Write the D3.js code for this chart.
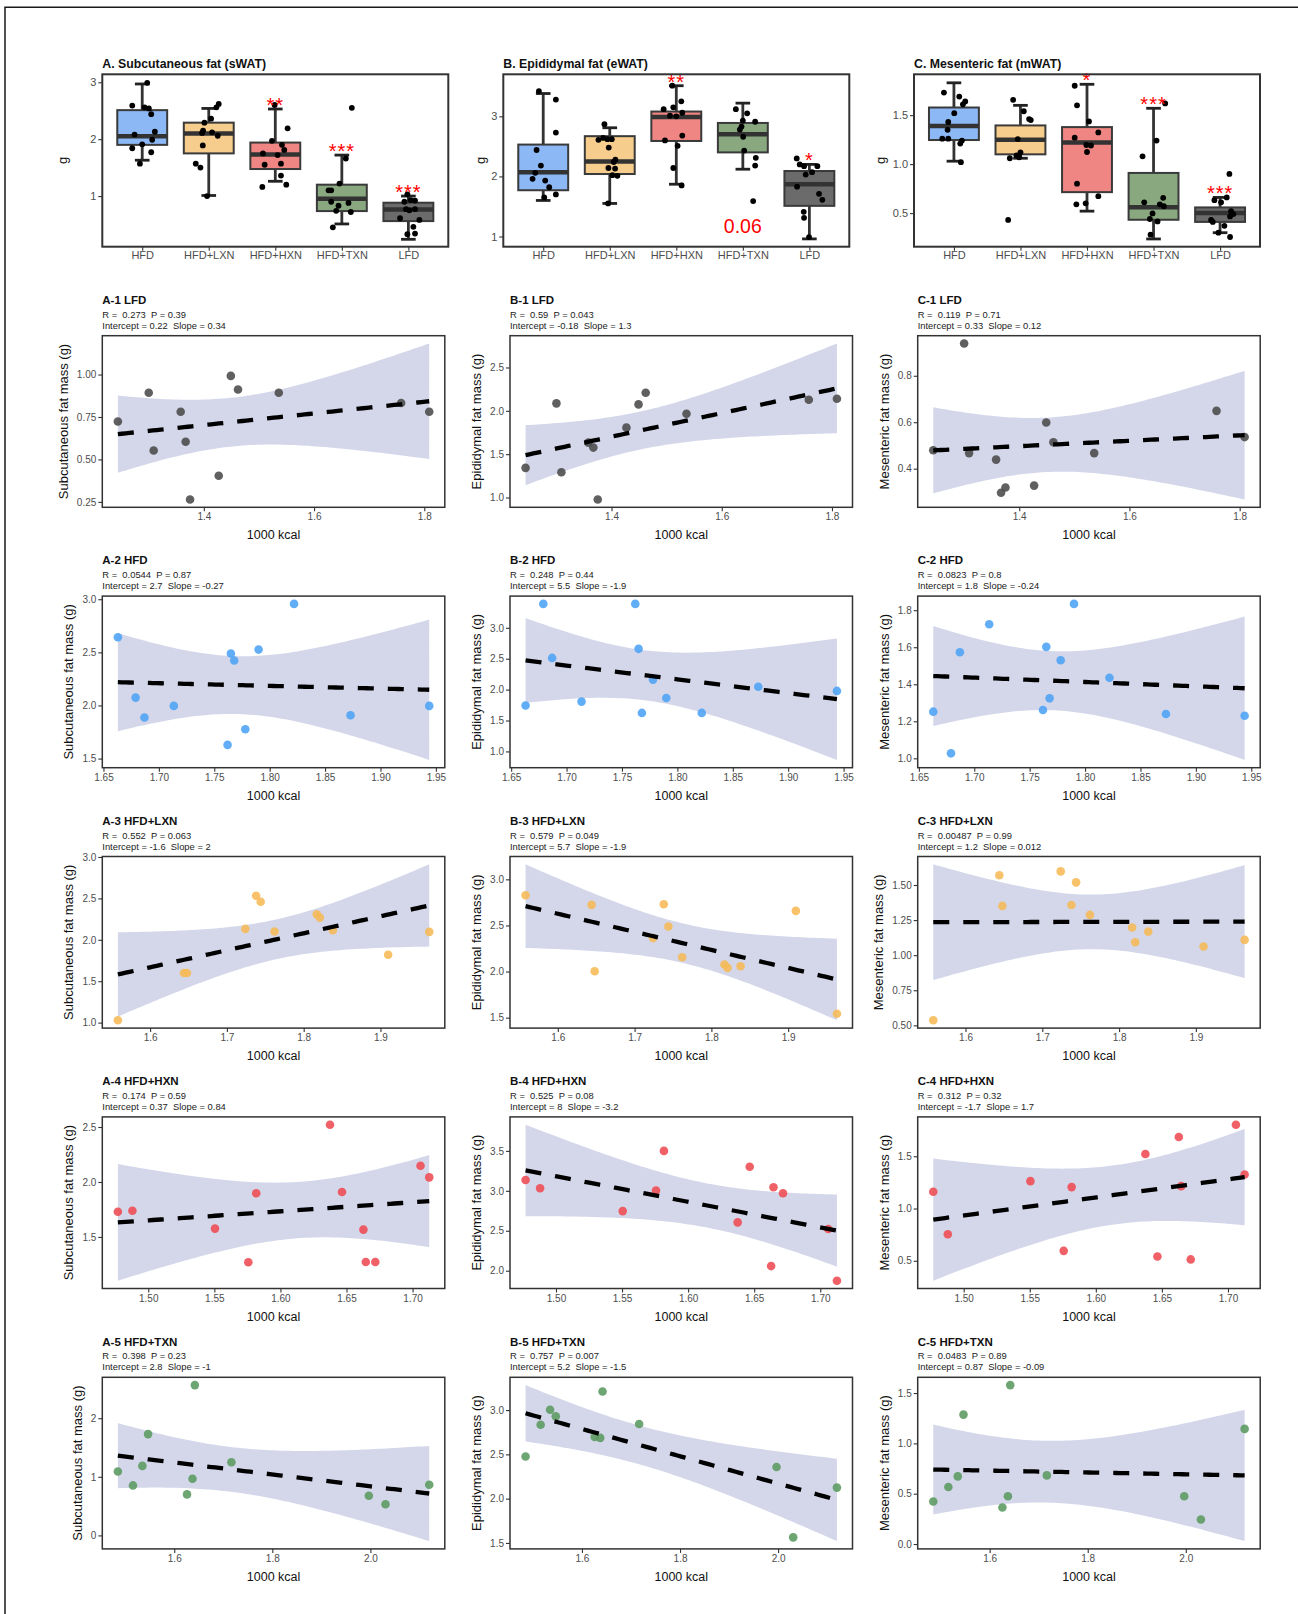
<!DOCTYPE html>
<html>
<head>
<meta charset="utf-8">
<script src="https://cdn.jsdelivr.net/npm/d3@7"></script>
<style>
  body { margin: 0; background: #fff; }
  svg text { font-family: "Liberation Sans", Arial, Helvetica, sans-serif; }
</style>
</head>
<body>
<svg id="fig" width="1298" height="1614"></svg>
<script>
// ---------- data ----------
const groups = ["HFD", "HFD+LXN", "HFD+HXN", "HFD+TXN", "LFD"];
const boxFill = ["#8cb8f6", "#f6cd8c", "#ef8683", "#8aa880", "#6b6b6b"];
const dotColor = ["#4ca3f5", "#f6b955", "#ee4b52", "#5a9a60", "#4a4a4a"];

// box stats: [whisker low, q1, median, q3, whisker high]
const sWATBox = [[1.63, 1.90, 2.05, 2.51, 2.97], [1.01, 1.75, 2.10, 2.29, 2.54], [1.26, 1.475, 1.73, 1.94, 2.53], [0.51, 0.736, 0.953, 1.20, 1.72], [0.24, 0.56, 0.765, 0.883, 1.0]];
const eWATBox = [[1.60, 1.77, 2.07, 2.53, 3.38], [1.55, 2.04, 2.25, 2.67, 2.81], [1.87, 2.59, 2.99, 3.08, 3.51], [2.12, 2.40, 2.70, 2.89, 3.22], [0.96, 1.51, 1.87, 2.09, 2.20]];
const mWATBox = [[1.03, 1.246, 1.39, 1.578, 1.83], [1.06, 1.10, 1.25, 1.395, 1.60], [0.52, 0.714, 1.22, 1.378, 1.815], [0.236, 0.432, 0.56, 0.91, 1.57], [0.30, 0.41, 0.50, 0.558, 0.66]];

// jittered points: [offset in category units, grams]
const sWATDots = [
  [[0.075, 2.99], [-0.15, 2.59], [0.035, 2.56], [0.10, 2.54], [0.135, 2.44], [0.19, 2.13], [-0.115, 2.08], [0.15, 1.99], [0, 1.91], [-0.15, 1.84], [0.135, 1.77], [-0.035, 1.57]],
  [[0.15, 2.62], [0.115, 2.56], [-0.065, 2.29], [0.035, 2.36], [-0.085, 2.15], [-0.10, 2.11], [0.05, 2.12], [0.135, 2.06], [-0.09, 1.89], [-0.195, 1.57], [-0.125, 1.50], [-0.025, 1.0]],
  [[-0.01, 2.60], [0.185, 2.19], [-0.05, 1.97], [0.10, 1.90], [0.135, 1.81], [-0.185, 1.75], [0.035, 1.72], [0.085, 1.57], [-0.16, 1.55], [0.085, 1.36], [0.165, 1.20], [-0.195, 1.16]],
  [[0.15, 2.55], [0.06, 1.66], [-0.035, 1.22], [-0.16, 1.10], [-0.2, 1.10], [-0.16, 0.90], [0.10, 0.88], [-0.05, 0.83], [-0.085, 0.74], [0.135, 0.72], [-0.135, 0.45]],
  [[-0.015, 1.03], [-0.06, 0.90], [0.035, 0.93], [0.10, 0.92], [-0.035, 0.77], [0.015, 0.75], [0.10, 0.77], [-0.125, 0.61], [0.165, 0.58], [0.075, 0.46], [0.10, 0.34], [-0.015, 0.33]]
];
const eWATDots = [
  [[-0.065, 3.42], [0.19, 3.28], [0.19, 2.73], [-0.10, 2.44], [-0.035, 2.18], [-0.12, 2.06], [-0.16, 1.96], [0.03, 1.93], [0.09, 1.82], [0.015, 1.65], [0.19, 1.70]],
  [[-0.08, 2.87], [-0.035, 2.62], [-0.10, 2.64], [-0.17, 2.61], [0.03, 2.62], [-0.015, 2.48], [0.085, 2.28], [0.06, 2.24], [-0.02, 2.14], [0.08, 2.13], [0.115, 2.01], [0.04, 2.02], [-0.025, 1.55]],
  [[-0.06, 3.51], [0.075, 3.25], [-0.045, 3.15], [-0.19, 3.12], [0.09, 3.06], [-0.095, 3.01], [0, 3.00], [0.09, 2.68], [-0.17, 2.60], [0.02, 2.51], [-0.045, 2.14], [0.08, 1.85]],
  [[-0.105, 3.12], [0.065, 3.05], [0, 2.93], [0.185, 2.91], [-0.02, 2.83], [-0.045, 2.78], [0.005, 2.66], [0.02, 2.43], [0.195, 2.31], [0.185, 2.18], [0.155, 1.59]],
  [[-0.19, 2.30], [-0.145, 2.20], [-0.08, 2.17], [0.12, 2.17], [-0.055, 2.03], [0.04, 2.07], [-0.185, 1.83], [0.145, 1.71], [0.195, 1.61], [-0.085, 1.41], [-0.08, 1.31], [-0.005, 0.99]]
];
const mWATDots = [
  [[-0.15, 1.73], [0.08, 1.69], [0.17, 1.64], [0.135, 1.61], [0.005, 1.52], [-0.085, 1.43], [-0.095, 1.35], [-0.175, 1.26], [-0.085, 1.26], [0.12, 1.24], [0.095, 1.21], [0.105, 1.02]],
  [[-0.11, 1.656], [0.05, 1.54], [0.155, 1.45], [0.13, 1.46], [-0.04, 1.256], [0, 1.12], [-0.06, 1.09], [-0.02, 1.07], [-0.16, 1.06], [-0.185, 0.43]],
  [[-0.185, 1.80], [-0.15, 1.60], [0.03, 1.436], [0.17, 1.324], [-0.185, 1.27], [-0.01, 1.195], [0.06, 1.19], [0, 1.124], [-0.15, 0.80], [0.17, 0.673], [-0.16, 0.59], [-0.02, 0.60]],
  [[0.175, 1.62], [0.045, 1.24], [-0.165, 1.08], [0.145, 0.656], [-0.14, 0.61], [0.095, 0.59], [0.155, 0.57], [-0.015, 0.497], [-0.055, 0.44], [0.06, 0.415], [-0.045, 0.28]],
  [[0.14, 0.90], [-0.085, 0.632], [0.015, 0.61], [0.10, 0.66], [0.165, 0.52], [0.2, 0.49], [0.15, 0.466], [-0.135, 0.43], [-0.11, 0.41], [0.065, 0.37], [-0.025, 0.30], [0.15, 0.256]]
];
const sWATStars = ["", "", "**", "***", "***"];
const eWATStars = ["", "", "**", "", "*"];
const mWATStars = ["", "", "*", "***", "***"];

// energy intake (1000 kcal) per group, and fat mass per mouse in the same order
const kcalLFD = [1.244, 1.300, 1.309, 1.358, 1.367, 1.375, 1.427, 1.449, 1.462, 1.536, 1.758, 1.809];
const sWAT_LFD = [0.723, 0.893, 0.553, 0.781, 0.604, 0.264, 0.404, 0.992, 0.912, 0.893, 0.832, 0.781];
const eWAT_LFD = [1.342, 2.086, 1.292, 1.633, 1.576, 0.977, 1.806, 2.074, 2.208, 1.967, 2.128, 2.139];
const mWAT_LFD = [0.479, 0.939, 0.467, 0.439, 0.296, 0.319, 0.327, 0.599, 0.514, 0.467, 0.649, 0.536];

const kcalHFD = [1.663, 1.679, 1.687, 1.7135, 1.762, 1.765, 1.768, 1.778, 1.790, 1.822, 1.873, 1.944];
const sWAT_HFD = [2.642, 2.074, 1.886, 1.996, 1.629, 2.489, 2.423, 1.776, 2.526, 2.956, 1.908, 1.996];
const eWAT_HFD = [1.743, 3.387, 2.513, 1.806, 3.387, 2.66, 1.623, 2.162, 1.864, 1.623, 2.047, 1.979];
const mWAT_HFD = [1.252, 1.027, 1.573, 1.724, 1.261, 1.602, 1.324, 1.530, 1.834, 1.435, 1.239, 1.230];

const kcalLXN = [1.558, 1.644, 1.648, 1.724, 1.738, 1.744, 1.762, 1.817, 1.821, 1.838, 1.910, 1.9635];
const sWAT_LXN = [1.028, 1.60, 1.60, 2.132, 2.532, 2.46, 2.10, 2.308, 2.268, 2.116, 1.82, 2.096];
const eWAT_LXN = [2.827, 2.723, 2.004, 2.363, 2.730, 2.489, 2.155, 2.076, 2.04, 2.058, 2.658, 1.543];
const mWAT_LXN = [0.536, 1.569, 1.351, 1.597, 1.358, 1.519, 1.287, 1.197, 1.092, 1.168, 1.062, 1.109];

const kcalHXN = [1.477, 1.488, 1.5505, 1.5757, 1.5817, 1.6375, 1.6466, 1.6628, 1.6646, 1.6718, 1.706, 1.7126];
const sWAT_HXN = [1.730, 1.739, 1.576, 1.270, 1.897, 2.521, 1.909, 1.567, 1.273, 1.273, 2.148, 2.042];
const eWAT_HXN = [3.135, 3.032, 2.746, 3.003, 3.50, 2.605, 3.301, 2.058, 3.044, 2.970, 2.522, 1.875];
const mWAT_HXN = [1.160, 0.754, 1.262, 0.595, 1.205, 1.522, 0.541, 1.684, 1.214, 0.513, 1.802, 1.325];

const kcalTXN = [1.485, 1.5158, 1.535, 1.5466, 1.626, 1.6372, 1.642, 1.7166, 1.9968, 2.0308, 2.12];
const sWAT_TXN = [1.090, 0.853, 1.186, 1.729, 0.700, 0.966, 2.565, 1.249, 0.678, 0.531, 0.864];
const eWAT_TXN = [2.476, 2.835, 3.004, 2.929, 2.697, 2.686, 3.21, 2.843, 2.357, 1.563, 2.125];
const mWAT_TXN = [0.422, 0.567, 0.672, 1.286, 0.363, 0.475, 1.579, 0.682, 0.475, 0.244, 1.144];

const rowNames = ["LFD", "HFD", "HFD+LXN", "HFD+HXN", "HFD+TXN"];
const statR = [
  ["R =  0.273  P = 0.39", "R =  0.59  P = 0.043", "R =  0.119  P = 0.71"],
  ["R =  0.0544  P = 0.87", "R =  0.248  P = 0.44", "R =  0.0823  P = 0.8"],
  ["R =  0.552  P = 0.063", "R =  0.579  P = 0.049", "R =  0.00487  P = 0.99"],
  ["R =  0.174  P = 0.59", "R =  0.525  P = 0.08", "R =  0.312  P = 0.32"],
  ["R =  0.398  P = 0.23", "R =  0.757  P = 0.007", "R =  0.0483  P = 0.89"]
];
const statLine = [
  ["Intercept = 0.22  Slope = 0.34", "Intercept = -0.18  Slope = 1.3", "Intercept = 0.33  Slope = 0.12"],
  ["Intercept = 2.7  Slope = -0.27", "Intercept = 5.5  Slope = -1.9", "Intercept = 1.8  Slope = -0.24"],
  ["Intercept = -1.6  Slope = 2", "Intercept = 5.7  Slope = -1.9", "Intercept = 1.2  Slope = 0.012"],
  ["Intercept = 0.37  Slope = 0.84", "Intercept = 8  Slope = -3.2", "Intercept = -1.7  Slope = 1.7"],
  ["Intercept = 2.8  Slope = -1", "Intercept = 5.2  Slope = -1.5", "Intercept = 0.87  Slope = -0.09"]
];

// tick labels
const yTicksA = [[0.25, 0.5, 0.75, 1], [1.5, 2, 2.5, 3], [1, 1.5, 2, 2.5, 3], [1.5, 2, 2.5], [0, 1, 2]];
const yTicksB = [[1, 1.5, 2, 2.5], [1, 1.5, 2, 2.5, 3], [1.5, 2, 2.5, 3], [2, 2.5, 3, 3.5], [1.5, 2, 2.5, 3]];
const yTicksC = [[0.4, 0.6, 0.8], [1, 1.2, 1.4, 1.6, 1.8], [0.5, 0.75, 1, 1.25, 1.5], [0.5, 1, 1.5], [0, 0.5, 1, 1.5]];
const yDecA = [2, 1, 1, 1, 0], yDecB = [1, 1, 1, 1, 1], yDecC = [1, 1, 2, 1, 1];
const xTicks = [[1.4, 1.6, 1.8], [1.65, 1.70, 1.75, 1.80, 1.85, 1.90, 1.95], [1.6, 1.7, 1.8, 1.9], [1.50, 1.55, 1.60, 1.65, 1.70], [1.6, 1.8, 2.0]];
const xDec = [1, 2, 1, 2, 1];
const tCrit = { 9: 2.262, 10: 2.228 };

// ---------- drawing ----------
const svg = d3.select("#fig");

svg.append("path")
  .attr("d", "M5,1614V7.3H1298")
  .attr("fill", "none")
  .attr("stroke", "#1a1a1a")
  .attr("stroke-width", 1.5);

function styleAxis(g, size) {
  g.attr("font-size", null).attr("font-family", null);
  g.select(".domain").remove();
  g.selectAll(".tick line").attr("stroke", "#333").attr("stroke-width", 1.1);
  g.selectAll(".tick text").attr("fill", "#4d4d4d").style("font-size", size + "px");
}

// box plots
function boxPanel(i, title, box, dots, stars, yDomain, yTicks, yDec, gX) {
  const left = [102.3, 503.3, 914][i], top = 74.3, w = 346, h = 172.4;
  const g = svg.append("g");
  const x = d3.scalePoint().domain(groups).range([left, left + w]).padding(0.6);
  const u = x.step();
  const y = d3.scaleLinear().domain(yDomain).range([top + h, top]);

  groups.forEach((grp, k) => {
    const [lo, q1, med, q3, hi] = box[k];
    const cx = x(grp);
    const gg = g.append("g");
    gg.append("line").attr("x1", cx).attr("x2", cx).attr("y1", y(hi)).attr("y2", y(q3))
      .attr("stroke", "#333").attr("stroke-width", 2.8);
    gg.append("line").attr("x1", cx).attr("x2", cx).attr("y1", y(lo)).attr("y2", y(q1))
      .attr("stroke", "#333").attr("stroke-width", 2.8);
    [lo, hi].forEach(v => {
      gg.append("line").attr("x1", cx - 0.11 * u).attr("x2", cx + 0.11 * u)
        .attr("y1", y(v)).attr("y2", y(v))
        .attr("stroke", "#222").attr("stroke-width", 2.8);
    });
    gg.append("rect")
      .attr("x", cx - 0.375 * u).attr("width", 0.75 * u)
      .attr("y", y(q3)).attr("height", y(q1) - y(q3))
      .attr("fill", boxFill[k]).attr("stroke", "#3a3a3a").attr("stroke-width", 2);
    gg.append("line").attr("x1", cx - 0.375 * u).attr("x2", cx + 0.375 * u)
      .attr("y1", y(med)).attr("y2", y(med))
      .attr("stroke", "#333").attr("stroke-width", 4.5);

    gg.selectAll("circle").data(dots[k]).join("circle")
      .attr("cx", d => cx + d[0] * u)
      .attr("cy", d => y(d[1]))
      .attr("r", 2.9)
      .attr("fill", "#000");

    if (stars[k]) {
      gg.append("text")
        .attr("x", cx).attr("y", y(hi) + 3)
        .attr("text-anchor", "middle")
        .attr("fill", "#ff0000")
        .style("font-size", "20px")
        .style("letter-spacing", "1px")
        .text(stars[k]);
    }
  });

  g.append("rect").attr("x", left).attr("y", top).attr("width", w).attr("height", h)
    .attr("fill", "none").attr("stroke", "#333").attr("stroke-width", 2);

  const ya = g.append("g").attr("transform", `translate(${left},0)`)
    .call(d3.axisLeft(y).tickValues(yTicks).tickFormat(d3.format(`.${yDec}f`)).tickSize(4).tickPadding(2));
  styleAxis(ya, 11);
  const xa = g.append("g").attr("transform", `translate(0,${top + h})`)
    .call(d3.axisBottom(x).tickSize(4).tickPadding(1));
  styleAxis(xa, 11);

  g.append("text").attr("x", left).attr("y", 67.7)
    .style("font-size", "12.3px").style("font-weight", "bold").attr("fill", "#111")
    .text(title);
  g.append("text").attr("transform", `translate(${gX},${top + h / 2}) rotate(-90)`)
    .attr("text-anchor", "middle").style("font-size", "13px").attr("fill", "#111")
    .text("g");
  return { x, y, g };
}

boxPanel(0, "A. Subcutaneous fat (sWAT)", sWATBox, sWATDots, sWATStars, [0.11, 3.14], [1, 2, 3], 0, 67);
const pB = boxPanel(1, "B. Epididymal fat (eWAT)", eWATBox, eWATDots, eWATStars, [0.83, 3.70], [1, 2, 3], 0, 485.3);
boxPanel(2, "C. Mesenteric fat (mWAT)", mWATBox, mWATDots, mWATStars, [0.157, 1.917], [0.5, 1.0, 1.5], 1, 885.3);

pB.g.append("text")
  .attr("x", pB.x("HFD+TXN")).attr("y", pB.y(1.065))
  .attr("text-anchor", "middle").attr("fill", "#ff0000")
  .style("font-size", "19.5px")
  .text("0.06");

// regression with 95% confidence band (lm)
function fit(xs, ys) {
  const n = xs.length, mx = d3.mean(xs), my = d3.mean(ys);
  let sxx = 0, sxy = 0;
  xs.forEach((xv, i) => { sxx += (xv - mx) ** 2; sxy += (xv - mx) * (ys[i] - my); });
  const b = sxy / sxx, a = my - b * mx;
  const s = Math.sqrt(d3.sum(xs, (xv, i) => (ys[i] - a - b * xv) ** 2) / (n - 2));
  const t = tCrit[n - 2];
  const [x0, x1] = d3.extent(xs);
  const band = d3.range(81).map(k => {
    const xv = x0 + (x1 - x0) * k / 80, yv = a + b * xv;
    const se = s * Math.sqrt(1 / n + (xv - mx) ** 2 / sxx);
    return { x: xv, y: yv, lo: yv - t * se, hi: yv + t * se };
  });
  return band;
}

function expand(ext) {
  const d = (ext[1] - ext[0]) * 0.05;
  return [ext[0] - d, ext[1] + d];
}

const colLeft = [102.3, 510, 917.7];
const panelW = 342.5, panelH = 171.6;
const yTitles = ["Subcutaneous fat mass (g)", "Epididymal fat mass (g)", "Mesenteric fat mass (g)"];
const letters = ["A", "B", "C"];
const kcalRows = [kcalLFD, kcalHFD, kcalLXN, kcalHXN, kcalTXN];
const fatRows = [
  [sWAT_LFD, eWAT_LFD, mWAT_LFD],
  [sWAT_HFD, eWAT_HFD, mWAT_HFD],
  [sWAT_LXN, eWAT_LXN, mWAT_LXN],
  [sWAT_HXN, eWAT_HXN, mWAT_HXN],
  [sWAT_TXN, eWAT_TXN, mWAT_TXN]
];
const rowColor = [dotColor[4], dotColor[0], dotColor[1], dotColor[2], dotColor[3]];
const yTickSets = [yTicksA, yTicksB, yTicksC];
const yDecSets = [yDecA, yDecB, yDecC];

function scatterPanel(row, col) {
  const left = colLeft[col], top = 335.7 + row * 260.4;
  const xs = kcalRows[row], ys = fatRows[row][col];
  const band = fit(xs, ys);
  const x = d3.scaleLinear().domain(expand(d3.extent(xs))).range([left, left + panelW]);
  const yExt = d3.extent([...ys, ...band.map(d => d.lo), ...band.map(d => d.hi)]);
  const y = d3.scaleLinear().domain(expand(yExt)).range([top + panelH, top]);
  const g = svg.append("g");

  g.append("path").datum(band)
    .attr("d", d3.area().x(d => x(d.x)).y0(d => y(d.lo)).y1(d => y(d.hi)))
    .attr("fill", "#d4d7ea");

  g.selectAll("circle").data(xs.map((xv, i) => [xv, ys[i]])).join("circle")
    .attr("cx", d => x(d[0])).attr("cy", d => y(d[1]))
    .attr("r", 4.3)
    .attr("fill", rowColor[row]).attr("fill-opacity", 0.88);

  g.append("path").datum(band)
    .attr("d", d3.line().x(d => x(d.x)).y(d => y(d.y)))
    .attr("fill", "none").attr("stroke", "#000").attr("stroke-width", 4.3)
    .attr("stroke-dasharray", "16,14");

  g.append("rect").attr("x", left).attr("y", top).attr("width", panelW).attr("height", panelH)
    .attr("fill", "none").attr("stroke", "#333").attr("stroke-width", 1.5);

  const ya = g.append("g").attr("transform", `translate(${left},0)`)
    .call(d3.axisLeft(y).tickValues(yTickSets[col][row])
      .tickFormat(d3.format(`.${yDecSets[col][row]}f`)).tickSize(4).tickPadding(2));
  styleAxis(ya, 10);
  const xa = g.append("g").attr("transform", `translate(0,${top + panelH})`)
    .call(d3.axisBottom(x).tickValues(xTicks[row])
      .tickFormat(d3.format(`.${xDec[row]}f`)).tickSize(4).tickPadding(2));
  styleAxis(xa, 10);

  const bb = ya.node().getBBox();
  g.append("text")
    .attr("transform", `translate(${left + bb.x - 9},${top + panelH / 2}) rotate(-90)`)
    .attr("text-anchor", "middle").style("font-size", "13px").attr("fill", "#111")
    .text(yTitles[col]);
  g.append("text").attr("x", left + panelW / 2).attr("y", top + panelH + 32)
    .attr("text-anchor", "middle").style("font-size", "12.5px").attr("fill", "#111")
    .text("1000 kcal");

  g.append("text").attr("x", left).attr("y", top - 31.7)
    .style("font-size", "11.5px").style("font-weight", "bold").attr("fill", "#111")
    .text(`${letters[col]}-${row + 1} ${rowNames[row]}`);
  g.append("text").attr("x", left).attr("y", top - 18)
    .style("font-size", "9.4px").style("white-space", "pre").attr("fill", "#222")
    .text(statR[row][col]);
  g.append("text").attr("x", left).attr("y", top - 7)
    .style("font-size", "9.4px").style("white-space", "pre").attr("fill", "#222")
    .text(statLine[row][col]);
}

for (let r = 0; r < 5; r++) {
  for (let c = 0; c < 3; c++) scatterPanel(r, c);
}
</script>
</body>
</html>
